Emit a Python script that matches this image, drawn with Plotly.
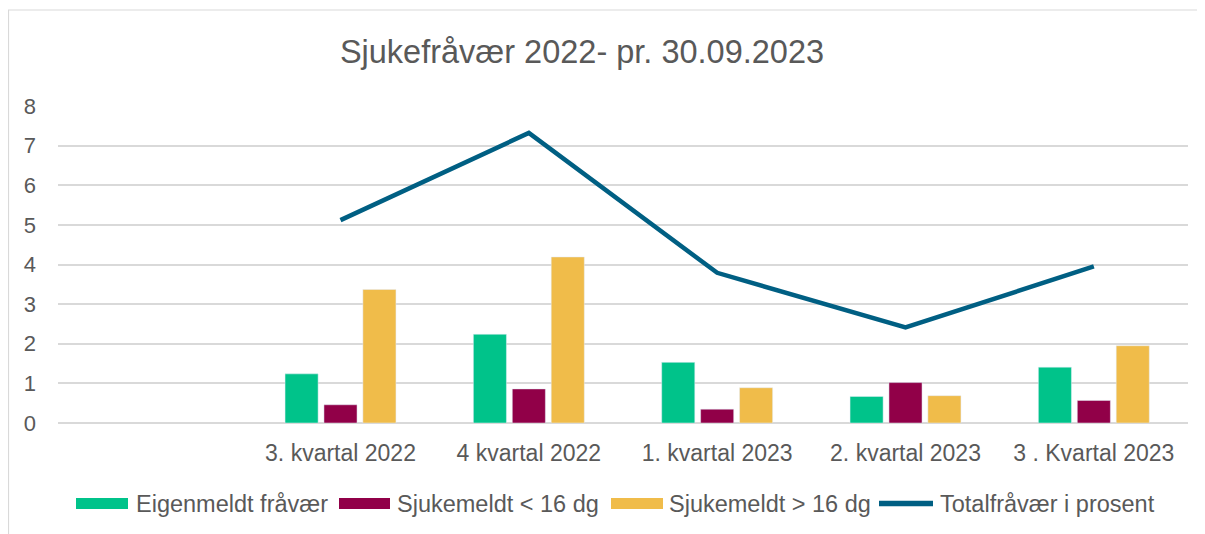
import plotly.graph_objects as go

categories = ["", "3. kvartal 2022", "4 kvartal 2022", "1. kvartal 2023", "2. kvartal 2023", "3 . Kvartal 2023"]
eigenmeldt = [None, 1.24, 2.24, 1.53, 0.67, 1.41]
sjuk_under16 = [None, 0.46, 0.86, 0.35, 1.02, 0.57]
sjuk_over16 = [None, 3.37, 4.19, 0.89, 0.69, 1.95]
total = [None, 5.12, 7.32, 3.79, 2.41, 3.95]
y_ticks = [0, 1, 2, 3, 4, 5, 6, 7, 8]

series_names = ["Eigenmeldt fråvær", "Sjukemeldt < 16 dg", "Sjukemeldt > 16 dg", "Totalfråvær i prosent"]
series_colors = ["#00C38A", "#910048", "#F0BC4A", "#005F83"]

# page has an 8px body margin; figure sized to fit the 1205x534 window
W, H = 1197, 526
ml, mr, mt, mb = 50, 17, 98, 111
pw = W - ml - mr
ph = H - mt - mb


def px_x(fx):
    return (fx - ml) / pw


def px_y(fy):
    return 1 - (fy - mt) / ph


fig = go.Figure()
for vals, name, col in zip([eigenmeldt, sjuk_under16, sjuk_over16], series_names[:3], series_colors[:3]):
    fig.add_trace(go.Bar(x=categories, y=vals, name=name, marker_color=col, showlegend=False))
fig.add_trace(go.Scatter(x=categories, y=total, name=series_names[3], mode="lines",
                         line=dict(color=series_colors[3], width=4.5), showlegend=False))

# outer chart border (left and top visible)
fig.add_shape(type="rect", xref="paper", yref="paper",
              x0=px_x(0.5), x1=px_x(W + 20), y0=px_y(H + 20), y1=px_y(2),
              line=dict(color="#D9D9D9", width=1.2), layer="below")

# custom legend with wide swatches (layout positions in pixels)
leg_y = 495.5
swatches = [(68, 120), (331, 382), (603, 655)]
text_x = [126, 387, 659, 930]
for (x0, x1), col in zip(swatches, series_colors[:3]):
    fig.add_shape(type="rect", xref="paper", yref="paper",
                  x0=px_x(x0), x1=px_x(x1), y0=px_y(leg_y + 5.5), y1=px_y(leg_y - 5.5),
                  fillcolor=col, line=dict(width=0))
fig.add_shape(type="line", xref="paper", yref="paper",
              x0=px_x(871), x1=px_x(925), y0=px_y(leg_y), y1=px_y(leg_y),
              line=dict(color=series_colors[3], width=5.5))
for tx, name in zip(text_x, series_names):
    fig.add_annotation(text=name, xref="paper", yref="paper", x=px_x(tx), y=px_y(leg_y),
                       xanchor="left", yanchor="middle", showarrow=False,
                       font=dict(size=23.5, color="#595959"))

fig.update_layout(
    width=W, height=H,
    margin=dict(l=ml, r=mr, t=mt, b=mb),
    paper_bgcolor="white", plot_bgcolor="white",
    font=dict(family="Liberation Sans, Arial, sans-serif", color="#595959", size=22),
    title=dict(text="Sjukefråvær 2022- pr. 30.09.2023", x=574 / W, xanchor="center",
               y=1 - 44 / H, yanchor="middle",
               font=dict(size=32.5, color="#595959")),
    barmode="group", bargap=0.38, bargroupgap=0.15,
    showlegend=False,
    xaxis=dict(type="category", showgrid=False, showline=False, ticks="",
               ticklabelstandoff=14,
               tickfont=dict(size=23, color="#595959")),
    yaxis=dict(range=[0, 8], tickvals=y_ticks, showgrid=True, gridcolor="#D9D9D9", gridwidth=1.5,
               zeroline=True, zerolinecolor="#D9D9D9", zerolinewidth=1.5, showline=False,
               ticks="", ticklabelstandoff=21,
               tickfont=dict(size=22, color="#595959")),
)

fig.write_html("out.html")
